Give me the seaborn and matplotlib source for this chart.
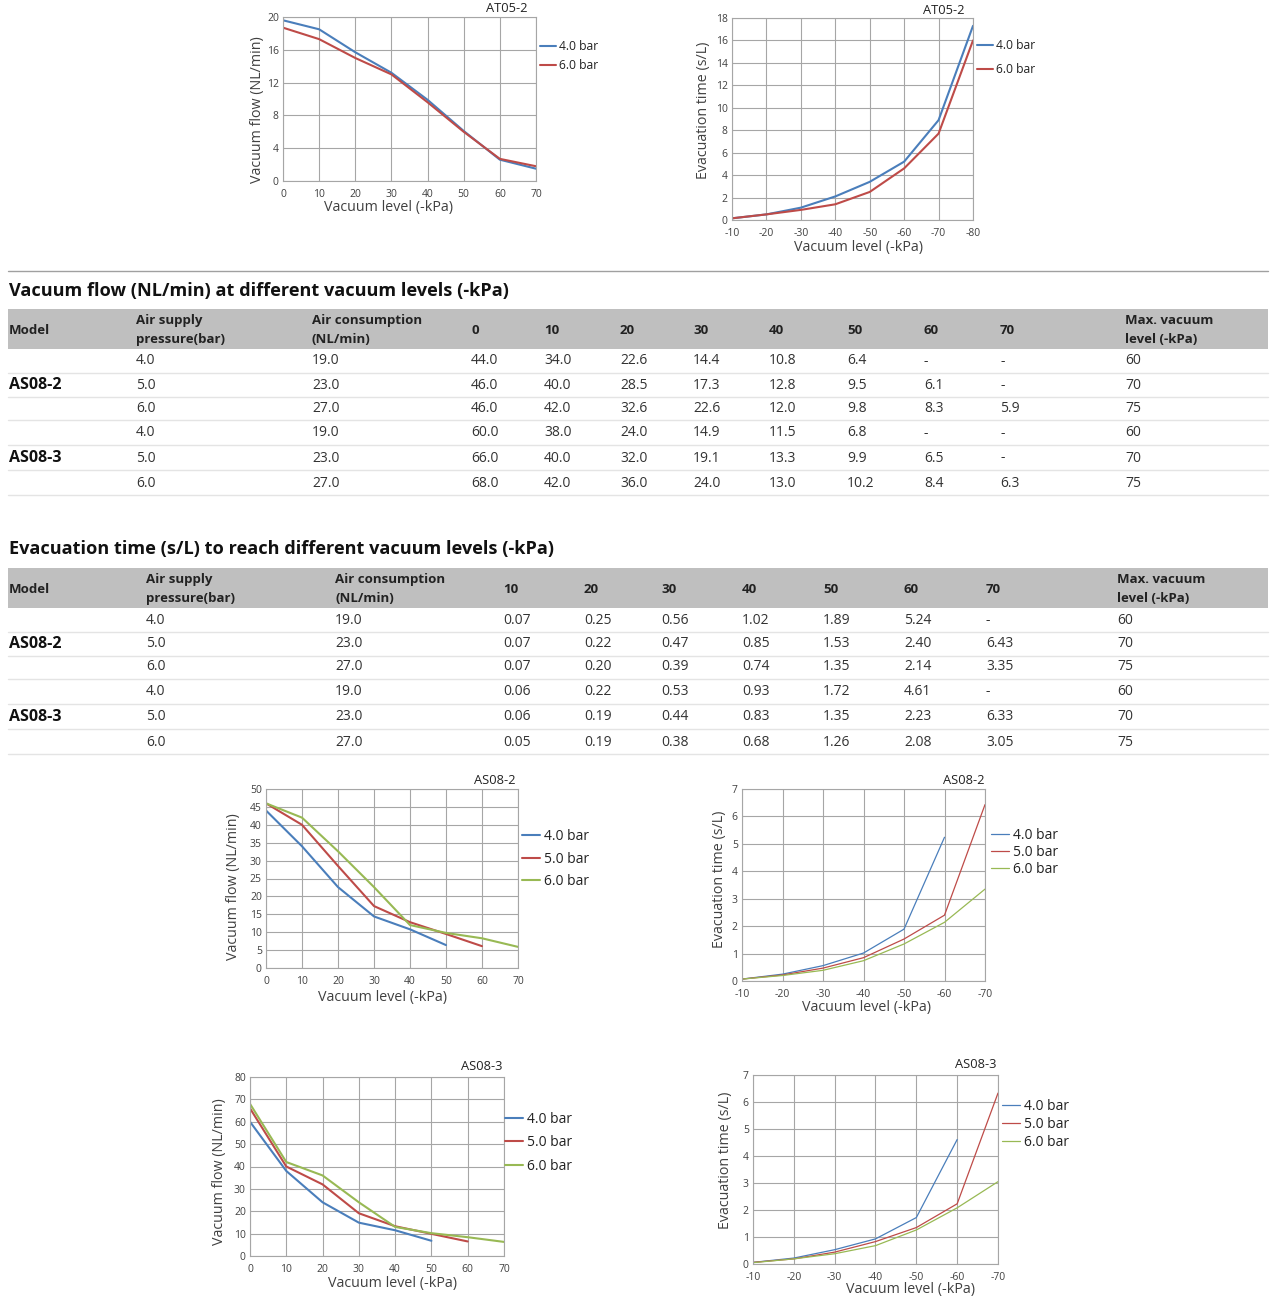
import numpy as np
import pandas as pd
import matplotlib
matplotlib.use("Agg")
import matplotlib.pyplot as plt
import seaborn as sns
from matplotlib.patches import Rectangle
from matplotlib.lines import Line2D

W, H = 1272, 1300

# ---- AT05-2 curves ----
at_flow_levels = [0, 10, 20, 30, 40, 50, 60, 70]
at_flow_4bar = [19.6, 18.5, 15.7, 13.2, 9.9, 6.1, 2.6, 1.5]
at_flow_6bar = [18.7, 17.3, 15.0, 13.0, 9.6, 6.0, 2.7, 1.8]
at_evac_levels = [-10, -20, -30, -40, -50, -60, -70, -80]
at_evac_4bar = [0.15, 0.5, 1.1, 2.1, 3.4, 5.2, 8.9, 17.3]
at_evac_6bar = [0.15, 0.5, 0.9, 1.4, 2.5, 4.6, 7.7, 16.0]

# ---- AS08 tables ----
models = ["AS08-2", "AS08-3"]
pressures = ["4.0", "5.0", "6.0"]
consumption = [19.0, 23.0, 27.0]
max_vacuum = [60, 70, 75]
bar_labels = ["4.0 bar", "5.0 bar", "6.0 bar"]

flow_levels = [0, 10, 20, 30, 40, 50, 60, 70]
flow_as08_2 = [
    [44.0, 34.0, 22.6, 14.4, 10.8, 6.4, None, None],
    [46.0, 40.0, 28.5, 17.3, 12.8, 9.5, 6.1, None],
    [46.0, 42.0, 32.6, 22.6, 12.0, 9.8, 8.3, 5.9],
]
flow_as08_3 = [
    [60.0, 38.0, 24.0, 14.9, 11.5, 6.8, None, None],
    [66.0, 40.0, 32.0, 19.1, 13.3, 9.9, 6.5, None],
    [68.0, 42.0, 36.0, 24.0, 13.0, 10.2, 8.4, 6.3],
]

evac_levels = [10, 20, 30, 40, 50, 60, 70]
evac_as08_2 = [
    [0.07, 0.25, 0.56, 1.02, 1.89, 5.24, None],
    [0.07, 0.22, 0.47, 0.85, 1.53, 2.40, 6.43],
    [0.07, 0.20, 0.39, 0.74, 1.35, 2.14, 3.35],
]
evac_as08_3 = [
    [0.06, 0.22, 0.53, 0.93, 1.72, 4.61, None],
    [0.06, 0.19, 0.44, 0.83, 1.35, 2.23, 6.33],
    [0.05, 0.19, 0.38, 0.68, 1.26, 2.08, 3.05],
]

BLUE, RED, GREEN = "#4a7ebb", "#be4b48", "#98b954"
GRID = "#a6a6a6"
TXT = "#404040"

sns.set_style("white")
plt.rcParams["font.family"] = ["Open Sans", "DejaVu Sans"]
plt.rcParams["axes.unicode_minus"] = False

fig = plt.figure(figsize=(W / 100, H / 100), dpi=100)


def fx(x):
    return x / W


def fy(y):
    return 1 - y / H


def draw_chart(box, xs, series, labels, colors, lw, xlim, xticks, yticks,
               ylabel, title, ylab_pos, xlab_pos, title_pos, leg_pos, leg_space, leg_size):
    left, top, right, bottom = box
    ax = fig.add_axes([fx(left), fy(bottom), (right - left) / W, (bottom - top) / H])
    rows = []
    for lab, ys in zip(labels, series):
        for x, y in zip(xs, ys):
            if y is not None:
                rows.append({"x": x, "y": y, "series": lab})
    df = pd.DataFrame(rows)
    sns.lineplot(data=df, x="x", y="y", hue="series", hue_order=labels,
                 palette=dict(zip(labels, colors)), linewidth=lw,
                 estimator=None, sort=False, legend=False, ax=ax)
    ax.set_xlim(*xlim)
    ax.set_ylim(yticks[0], yticks[-1])
    ax.set_xticks(xticks)
    ax.set_yticks(yticks)
    ax.grid(True, color=GRID, linewidth=0.8)
    for s in ax.spines.values():
        s.set_color(GRID)
        s.set_linewidth(0.8)
    ax.tick_params(length=0, labelsize=7.5, labelcolor=TXT, pad=3)
    ax.tick_params(axis="x", pad=6)
    ax.set_xlabel("")
    ax.set_ylabel("")
    fig.text(fx(ylab_pos[0]), fy(ylab_pos[1]), ylabel, rotation=90,
             ha="center", va="center", fontsize=10.3, color=TXT)
    fig.text(fx(xlab_pos[0]), fy(xlab_pos[1]), "Vacuum level (-kPa)",
             ha="center", va="center", fontsize=10.3, color=TXT)
    fig.text(fx(title_pos[0]), fy(title_pos[1]), title, ha="right",
             va="center", fontsize=9.3, color="#222222")
    handles = [Line2D([0], [0], color=c, lw=lw) for c in colors]
    ax.legend(handles, labels, loc="upper left",
              bbox_to_anchor=(fx(leg_pos[0]), fy(leg_pos[1] - 8)),
              bbox_transform=fig.transFigure, frameon=False, fontsize=leg_size,
              handlelength=1.3, handletextpad=0.25, borderpad=0,
              borderaxespad=0, labelspacing=leg_space, labelcolor="#222222")
    return ax


def fmt(v, nd):
    return "-" if v is None else f"{v:.{nd}f}"


def draw_table(title, title_y, band, col_x, level_cols, data, nd, rows_y):
    fig.text(fx(9), fy(title_y), title, ha="left", va="center",
             fontsize=13.1, fontweight="bold", color="#111111")
    fig.patches.append(Rectangle((fx(8), fy(band[1])), (1268 - 8) / W,
                                 (band[1] - band[0]) / H, transform=fig.transFigure,
                                 facecolor="#bfbfbf", edgecolor="none"))
    band_mid = (band[0] + band[1]) / 2 + 1
    headers = ["Model", "Air supply\npressure(bar)", "Air consumption\n(NL/min)"] + \
        [str(l) for l in level_cols] + ["Max. vacuum\nlevel (-kPa)"]
    for x, h in zip(col_x, headers):
        fig.text(fx(x), fy(band_mid), h, ha="left", va="center", fontsize=9.5,
                 fontweight="bold", color="#222222", linespacing=1.6)
    r = 0
    for m, block in zip(models, data):
        fig.text(fx(9), fy(rows_y[r + 1]), m, ha="left", va="center",
                 fontsize=11.5, fontweight="bold", color="#111111")
        for i, vals in enumerate(block):
            y = rows_y[r]
            cells = [pressures[i], f"{consumption[i]:.1f}"] + \
                [fmt(v, nd) for v in vals] + [str(max_vacuum[i])]
            for x, c in zip(col_x[1:], cells):
                fig.text(fx(x), fy(y), c, ha="left", va="center",
                         fontsize=10, color="#333333")
            fig.add_artist(Line2D([fx(8), fx(1268)], [fy(y + 12), fy(y + 12)],
                                  color="#e4e4e4", lw=1, transform=fig.transFigure))
            r += 1


# top charts: AT05-2
draw_chart((283, 17, 536, 181), at_flow_levels, [at_flow_4bar, at_flow_6bar],
           ["4.0 bar", "6.0 bar"], [BLUE, RED], 1.5, (0, 70),
           at_flow_levels, list(range(0, 21, 4)), "Vacuum flow (NL/min)",
           "AT05-2", (257, 110), (389, 208), (527, 9), (540, 48), 0.5, 8.7)
draw_chart((732, 18, 973, 220), at_evac_levels, [at_evac_4bar, at_evac_6bar],
           ["4.0 bar", "6.0 bar"], [BLUE, RED], 1.5, (-10, -80),
           at_evac_levels, list(range(0, 19, 2)), "Evacuation time (s/L)",
           "AT05-2", (703, 110), (858, 248), (964, 10), (977, 47), 0.95, 8.7)

fig.add_artist(Line2D([fx(8), fx(1268)], [fy(271), fy(271)], color="#a0a0a0",
                      lw=1, transform=fig.transFigure))

draw_table("Vacuum flow (NL/min) at different vacuum levels (-kPa)", 291,
           (309, 349), [9, 136, 312, 471, 544, 620, 693, 769, 847, 924, 1000, 1125],
           flow_levels, [flow_as08_2, flow_as08_3], 1,
           [361, 385, 408, 433, 458, 483])
draw_table("Evacuation time (s/L) to reach different vacuum levels (-kPa)", 549,
           (568, 608), [9, 146, 335, 503, 584, 661, 742, 823, 904, 986, 1117],
           evac_levels, [evac_as08_2, evac_as08_3], 2,
           [620, 644, 667, 692, 717, 742])

neg_levels = [-v for v in evac_levels]
draw_chart((266, 789, 518, 968), flow_levels, flow_as08_2, bar_labels,
           [BLUE, RED, GREEN], 1.5, (0, 70), flow_levels, list(range(0, 51, 5)),
           "Vacuum flow (NL/min)", "AS08-2", (234, 887), (383, 998), (516, 781),
           (522, 837), 0.55, 10)
draw_chart((742, 789, 985, 981), neg_levels, evac_as08_2, bar_labels,
           [BLUE, RED, GREEN], 0.9, (-10, -70), neg_levels, list(range(0, 8)),
           "Evacuation time (s/L)", "AS08-2", (719, 879), (866, 1008), (984, 780),
           (991, 836), 0.15, 10)
draw_chart((250, 1077, 504, 1256), flow_levels, flow_as08_3, bar_labels,
           [BLUE, RED, GREEN], 1.5, (0, 70), flow_levels, list(range(0, 81, 10)),
           "Vacuum flow (NL/min)", "AS08-3", (220, 1172), (393, 1284), (502, 1067),
           (505, 1120), 0.6, 10)
draw_chart((753, 1075, 998, 1264), neg_levels, evac_as08_3, bar_labels,
           [BLUE, RED, GREEN], 0.9, (-10, -70), neg_levels, list(range(0, 8)),
           "Evacuation time (s/L)", "AS08-3", (726, 1160), (911, 1290), (996, 1065),
           (1002, 1107), 0.2, 10)

fig.savefig("out.png", dpi=100, facecolor="white")
